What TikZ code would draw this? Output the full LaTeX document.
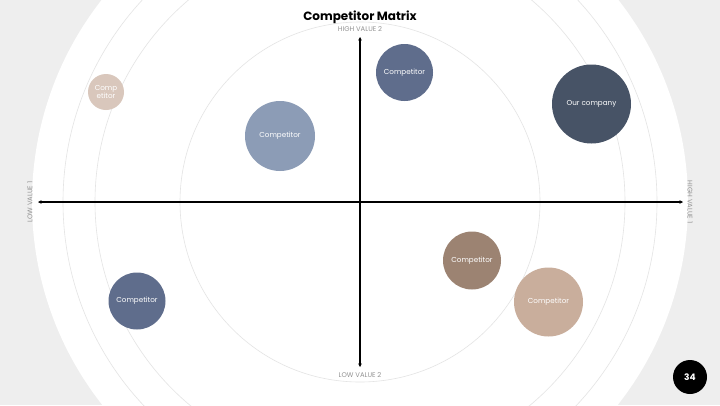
\documentclass[tikz,border=0pt]{standalone}
\usepackage{fontspec}
\setmainfont{Poppins}
\usepackage{xcolor}
\usetikzlibrary{arrows.meta}

\definecolor{pagegray}{HTML}{EEEEEE}
\definecolor{ringgray}{HTML}{E4E4E4}
\definecolor{sandlight}{HTML}{D9C7BC}
\definecolor{bluelight}{HTML}{8C9CB6}
\definecolor{slate}{HTML}{5F6D8C}
\definecolor{slatedark}{HTML}{475366}
\definecolor{umber}{HTML}{9C8372}
\definecolor{tan}{HTML}{C9AE9C}

\tikzset{
    bubble/.style={circle, inner sep=0pt, text=white, align=center,
        font=\fontsize{7.2}{8}\selectfont},
    axislabel/.style={text=gray!85, font=\fontsize{6.8}{7}\selectfont, inner sep=1pt},
    axisline/.style={{Stealth[length=3.5pt,width=3.5pt]}-{Stealth[length=3.5pt,width=3.5pt]}, line width=1.4pt}
}

\begin{document}
\begin{tikzpicture}[x=1pt, y=-1pt]
        \useasboundingbox (0,0) rectangle (720,405);

        % 1. Background and rings
        \fill[pagegray] (0,0) rectangle (720,405);
        \begin{scope}
            \clip (0,0) rectangle (720,405);
            \fill[white] (360,202) circle (328);
            \foreach \r in {180, 265, 297} {
                \draw[ringgray, line width=0.6pt] (360,202) circle (\r);
            }
        \end{scope}

        % 2. Title
        \node[font=\bfseries\fontsize{12}{14}\selectfont] (Title) at (360,17) {Competitor Matrix};

        % 3. Axes
        \coordinate (West)  at (38,202);
        \coordinate (East)  at (683,202);
        \coordinate (North) at (360,37);
        \coordinate (South) at (360,367);
        \draw[axisline] (West) -- (East);
        \draw[axisline] (South) -- (North);

        \node[axislabel] (HighTwo) at (360,29)  {HIGH VALUE 2};
        \node[axislabel] (LowTwo)  at (360,375) {LOW VALUE 2};
        \node[axislabel, rotate=90]  (LowOne)  at (30,202)  {LOW VALUE 1};
        \node[axislabel, rotate=-90] (HighOne) at (690,202) {HIGH VALUE 1};

        % 4. Bubbles (competitors)
        \node[bubble, fill=sandlight, minimum size=36pt] (CompSmall) at (106,92)    {Comp\\etitor};
        \node[bubble, fill=bluelight, minimum size=70pt] (CompBlue)  at (280,136)   {Competitor};
        \node[bubble, fill=slate,     minimum size=57pt] (CompTop)   at (404.5,72.5) {Competitor};
        \node[bubble, fill=slatedark, minimum size=79pt] (Ours)      at (591.5,104) {Our company};
        \node[bubble, fill=slate,     minimum size=57pt] (CompLow)   at (137,301)   {Competitor};
        \node[bubble, fill=umber,     minimum size=58pt] (CompBrown) at (472,260.5) {Competitor};
        \node[bubble, fill=tan,       minimum size=69pt] (CompTan)   at (548.5,302) {Competitor};

        % 5. Page number
        \node[circle, fill=black, minimum size=34pt, inner sep=0pt, text=white,
              font=\bfseries\fontsize{9}{10}\selectfont] (PageNo) at (690,377) {34};

    \end{tikzpicture}
\end{document}
